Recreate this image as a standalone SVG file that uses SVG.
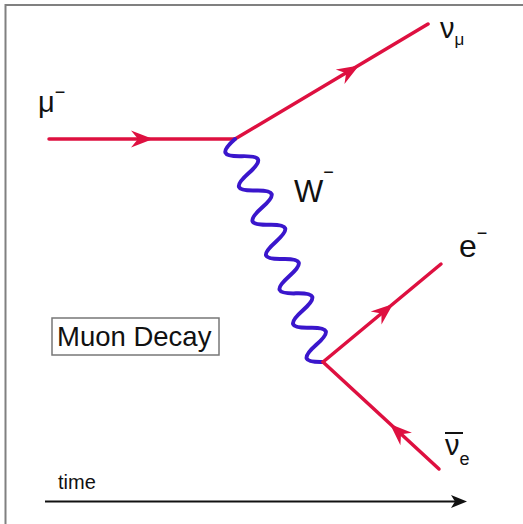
<svg xmlns="http://www.w3.org/2000/svg" width="523" height="524" viewBox="0 0 523 524">
<defs>
<style>
.f{stroke:#de1040;stroke-width:3.5;fill:none;stroke-linecap:round}
.ah{fill:#de1040}
.t{font-family:"Liberation Sans",Arial,sans-serif;fill:#111}
.w{stroke:#3a16cc;stroke-width:4;fill:none;stroke-linecap:round}
</style>
<path id="arr" d="M0,0 L-22,-8.5 L-15,0 L-22,8.5 Z"/>
</defs>
<rect x="0" y="0" width="523" height="524" fill="#fff"/>
<path d="M5.5,524 V5 H523" fill="none" stroke="#808080" stroke-width="2"/>
<g id="connectors">
<g id="mu-in"><line class="f" x1="49" y1="139" x2="235" y2="139"/><use href="#arr" class="ah" transform="translate(153,139)"/></g>
<g id="numu-out"><line class="f" x1="235" y1="139" x2="428" y2="24"/><use href="#arr" class="ah" transform="translate(359,65.5) rotate(-30.8)"/></g>
<g id="W"><path class="w" transform="translate(235,139) rotate(68.46)" d="M0,0 c6.8,18.5 11.6,18.5 18.44,0 c6.8,-18.5 11.6,-18.5 18.44,0 c6.8,18.5 11.6,18.5 18.44,0 c6.8,-18.5 11.6,-18.5 18.44,0 c6.8,18.5 11.6,18.5 18.44,0 c6.8,-18.5 11.6,-18.5 18.44,0 c6.8,18.5 11.6,18.5 18.44,0 c6.8,-18.5 11.6,-18.5 18.44,0 c6.8,18.5 11.6,18.5 18.44,0 c6.8,-18.5 11.6,-18.5 18.44,0 c6.8,18.5 11.6,18.5 18.44,0 c6.8,-18.5 11.6,-18.5 18.44,0 c6.8,18.5 11.6,18.5 18.44,0"/></g>
<g id="e-out"><line class="f" x1="323" y1="362" x2="441" y2="264"/><use href="#arr" class="ah" transform="translate(393,304) rotate(-39.7)"/></g>
<g id="nuebar"><line class="f" x1="323" y1="362" x2="439" y2="469"/><use href="#arr" class="ah" transform="translate(390,424) rotate(-137.3)"/></g>
<g id="time-axis"><line x1="45" y1="501.5" x2="460" y2="501.5" stroke="#111" stroke-width="2"/><path d="M467,501.5 L451,495 L455,501.5 L451,508 Z" fill="#111"/></g>
</g>
<g id="label-mu"><text class="t" x="38" y="112" font-size="29">μ<tspan font-size="18" dy="-14">−</tspan></text></g>
<g id="label-W"><text class="t" x="294" y="202" font-size="31">W<tspan font-size="18" dy="-24">−</tspan></text></g>
<g id="label-numu"><text class="t" x="440" y="38" font-size="29">ν<tspan font-size="17" dy="7">μ</tspan></text></g>
<g id="label-e"><text class="t" x="459" y="257" font-size="32">e<tspan font-size="18" dy="-18">−</tspan></text></g>
<g id="label-nuebar"><line x1="445" y1="433" x2="463" y2="433" stroke="#111" stroke-width="2"/><text class="t" x="445" y="455" font-size="29">ν<tspan font-size="18" dy="10">e</tspan></text></g>
<g id="box"><rect x="52" y="318" width="167" height="37" fill="#fff" stroke="#777" stroke-width="1.5"/><text class="t" x="57" y="346" font-size="27.5">Muon Decay</text></g>
<g id="label-time"><text class="t" x="58" y="489" font-size="20">time</text></g>
</svg>
